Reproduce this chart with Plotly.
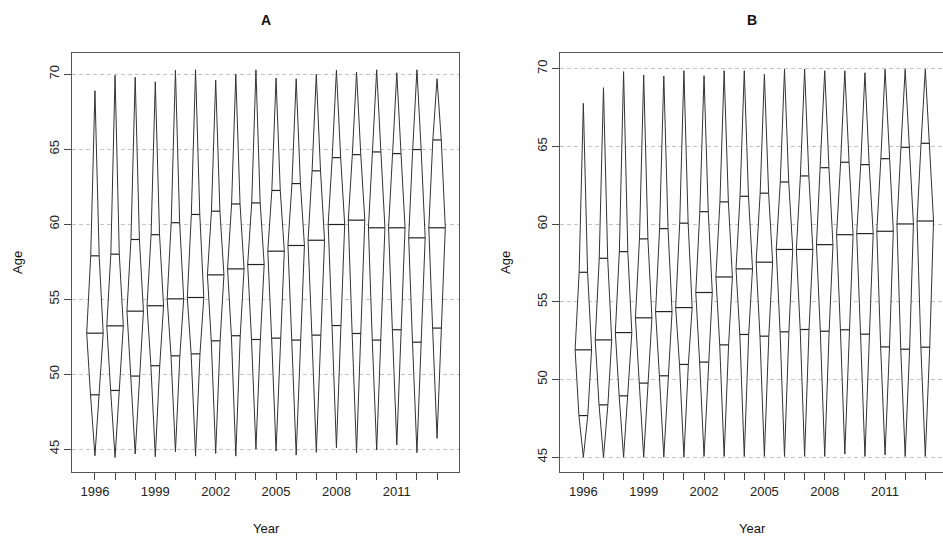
import plotly.graph_objects as go

# ---------------- data ----------------
years = list(range(1996, 2014))
tick_labels = ["1996", "", "", "1999", "", "", "2002", "", "", "2005", "", "",
               "2008", "", "", "2011", "", ""]

a_min = [44.55, 44.44, 44.67, 44.49, 44.82, 44.53, 44.71, 44.53, 45.0, 44.87,
         44.6, 44.78, 45.09, 44.76, 44.93, 45.27, 44.76, 45.71]
a_q1 = [48.62, 48.91, 49.87, 50.56, 51.22, 51.35, 52.22, 52.56, 52.31, 52.4,
        52.27, 52.6, 53.24, 52.71, 52.27, 52.96, 52.13, 53.07]
a_med = [52.73, 53.22, 54.2, 54.56, 55.02, 55.11, 56.62, 57.02, 57.31, 58.2,
         58.58, 58.93, 59.98, 60.27, 59.76, 59.76, 59.09, 59.76]
a_q3 = [57.89, 58.0, 58.98, 59.3, 60.1, 60.65, 60.87, 61.35, 61.42, 62.25,
        62.71, 63.56, 64.44, 64.64, 64.82, 64.71, 64.98, 65.62]
a_max = [68.9, 69.93, 69.8, 69.5, 70.27, 70.3, 69.6, 70.0, 70.3, 69.75,
         69.7, 70.0, 70.27, 70.15, 70.3, 70.1, 70.3, 69.7]

b_min = [45.0, 45.0, 45.0, 45.0, 45.0, 45.0, 45.05, 45.05, 45.05, 45.05,
         45.05, 45.05, 45.05, 45.2, 45.05, 45.15, 45.05, 45.05]
b_q1 = [47.68, 48.37, 48.95, 49.77, 50.24, 50.97, 51.12, 52.23, 52.9, 52.79,
        53.07, 53.22, 53.11, 53.2, 52.92, 52.1, 51.95, 52.08]
b_med = [51.91, 52.55, 53.02, 53.97, 54.37, 54.63, 55.6, 56.6, 57.12, 57.55,
         58.37, 58.37, 58.68, 59.32, 59.39, 59.54, 60.01, 60.2]
b_q3 = [56.9, 57.8, 58.23, 59.05, 59.71, 60.06, 60.8, 61.43, 61.79, 61.99,
        62.71, 63.1, 63.63, 63.98, 63.83, 64.21, 64.94, 65.2]
b_max = [67.77, 68.78, 69.81, 69.6, 69.53, 69.87, 69.55, 69.87, 69.87, 69.64,
         69.96, 69.98, 69.87, 69.87, 69.74, 69.96, 69.96, 69.96]

# ---------------- style ----------------
W_Q1, W_MED, W_Q3 = 0.22, 0.41, 0.21   # half-widths (in year units)
LINE = "#333333"
FONT = "Liberation Sans, Arial, Helvetica, sans-serif"


def violin_traces(mn, q1, md, q3, mx, xa, ya):
    xs, ys = [], []
    lx, ly = [], []
    for i, x in enumerate(years):
        prof_y = [mn[i], q1[i], md[i], q3[i], mx[i]]
        prof_w = [0, W_Q1, W_MED, W_Q3, 0]
        right = [(x + w, y) for w, y in zip(prof_w, prof_y)]
        left = [(x - w, y) for w, y in zip(prof_w[::-1], prof_y[::-1])]
        for px, py in right + left[1:]:
            xs.append(px)
            ys.append(py)
        xs.append(None)
        ys.append(None)
        for w, y in [(W_Q1, q1[i]), (W_MED, md[i]), (W_Q3, q3[i])]:
            lx += [x - w, x + w, None]
            ly += [y, y, None]
    t1 = go.Scatter(x=xs, y=ys, mode="lines", fill="toself", fillcolor="white",
                    line=dict(color=LINE, width=1), xaxis=xa, yaxis=ya,
                    hoverinfo="skip", showlegend=False)
    t2 = go.Scatter(x=lx, y=ly, mode="lines", line=dict(color="#222222", width=1.2),
                    xaxis=xa, yaxis=ya, hoverinfo="skip", showlegend=False)
    return [t1, t2]


fig = go.Figure()
for t in violin_traces(a_min, a_q1, a_med, a_q3, a_max, "x", "y"):
    fig.add_trace(t)
for t in violin_traces(b_min, b_q1, b_med, b_q3, b_max, "x2", "y2"):
    fig.add_trace(t)

xcommon = dict(tickmode="array", tickvals=years, ticktext=tick_labels,
               ticks="outside", ticklen=7, tickwidth=1, tickcolor="#444",
               showgrid=False, zeroline=False, showline=True, linecolor="#555",
               linewidth=1, tickfont=dict(family=FONT, size=13, color="#222"))
ycommon = dict(tickmode="array", tickvals=[45, 50, 55, 60, 65, 70],
               ticks="outside", ticklen=7, tickwidth=1, tickcolor="#444",
               showgrid=True, gridcolor="#c4c4c4", griddash="4px,3px", gridwidth=1,
               zeroline=False, showline=True, linecolor="#555", linewidth=1,
               tickangle=-90, tickfont=dict(family=FONT, size=13, color="#222"))


def px_x(p):
    return (p - 72) / 871.0


def px_y(p):
    return (536 - 64 - p) / (536 - 53 - 64.0)


ann = [
    dict(text="<b>A</b>", x=px_x(266), y=px_y(20), size=14),
    dict(text="<b>B</b>", x=px_x(752), y=px_y(20), size=14),
    dict(text="Year", x=px_x(266), y=px_y(528), size=13),
    dict(text="Year", x=px_x(752), y=px_y(528), size=13),
    dict(text="Age", x=px_x(17), y=px_y(263), size=13, textangle=-90),
    dict(text="Age", x=px_x(505), y=px_y(263), size=13, textangle=-90),
]
annotations = []
for a in ann:
    size = a.pop("size")
    a.update(xref="paper", yref="paper", showarrow=False, xanchor="center",
             yanchor="middle", font=dict(family=FONT, size=size, color="#111"))
    annotations.append(a)

fig.update_layout(
    width=943, height=536,
    margin=dict(l=72, r=0, t=53, b=64),
    paper_bgcolor="white", plot_bgcolor="white",
    xaxis=dict(domain=[0, 0.4443], range=[1994.86, 2014.09], mirror=True, **xcommon),
    yaxis=dict(range=[43.47, 71.42], mirror=True, **ycommon),
    xaxis2=dict(domain=[0.5603, 1.0], range=[1994.84, 2013.88], mirror=True,
                anchor="y2", **xcommon),
    yaxis2=dict(range=[44.05, 71.01], anchor="x2", mirror=False, **ycommon),
    annotations=annotations,
)

fig.write_html("out.html")
